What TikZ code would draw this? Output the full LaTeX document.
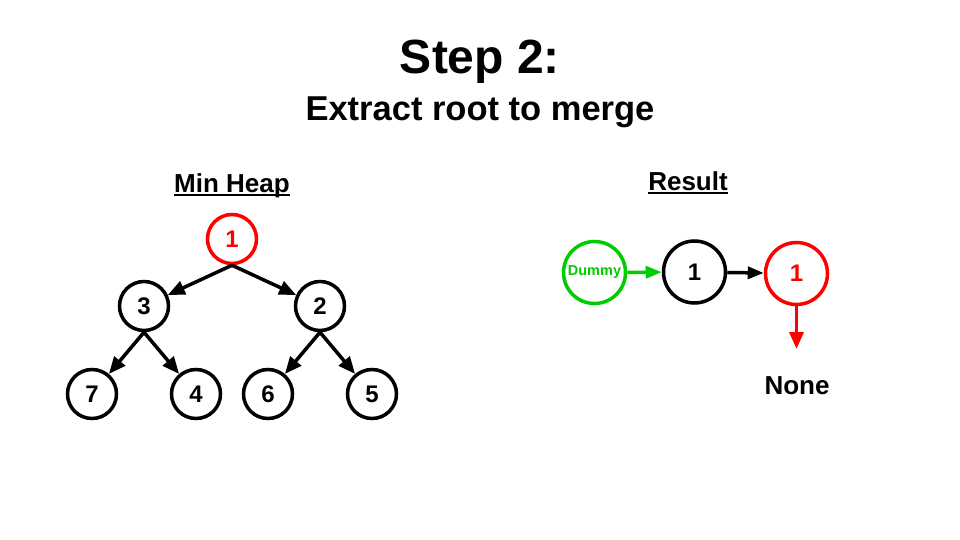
\documentclass[tikz,border=0pt]{standalone}
\usepackage{fontspec}
\setmainfont{Liberation Sans}
\usetikzlibrary{arrows.meta}
\definecolor{heapred}{RGB}{255,0,0}
\definecolor{dummygreen}{RGB}{0,204,0}
\tikzset{
  heapnode/.style={circle, draw, line width=3.5pt, minimum size=49pt, inner sep=0pt,
    font=\fontsize{24}{28}\selectfont\bfseries},
  listnode/.style={circle, draw, line width=3.5pt, minimum size=62pt, inner sep=0pt,
    font=\fontsize{24}{28}\selectfont\bfseries},
  link/.style={line width=3.5pt, -{Triangle[length=17pt,width=14pt]}},
  shortlink/.style={line width=3.5pt, -{Triangle[length=16pt,width=12pt]}},
  heading/.style={inner sep=0pt, anchor=base, font=\fontsize{26}{30}\selectfont\bfseries},
}
\begin{document}
\begin{tikzpicture}[x=1pt, y=-1pt]
\useasboundingbox (0,0) rectangle (960,540);
\fill[white] (0,0) rectangle (960,540);

% title
\node[inner sep=0pt, font=\fontsize{48}{56}\selectfont\bfseries] (title) at (480,62) {Step 2:};
\node[inner sep=0pt, font=\fontsize{34.5}{40}\selectfont\bfseries] (subtitle) at (480,112) {Extract root to merge};

% section headings
\node[heading] (mh) at (232,192) {Min Heap};
\draw[line width=2pt] ([yshift=-3pt]mh.base west) -- ([yshift=-3pt]mh.base east);
\node[heading] (res) at (688,190) {Result};
\draw[line width=2pt] ([yshift=-3pt]res.base west) -- ([yshift=-3pt]res.base east);

% min heap
\node[heapnode, draw=heapred, text=heapred] (h1) at (232,239) {1};
\node[heapnode] (h3) at (144,306) {3};
\node[heapnode] (h2) at (320,306) {2};
\node[heapnode] (h7) at (92,394) {7};
\node[heapnode] (h4) at (196,394) {4};
\node[heapnode] (h6) at (268,394) {6};
\node[heapnode] (h5) at (372,394) {5};
\draw[link] (h1.south) -- (h3);
\draw[link] (h1.south) -- (h2);
\draw[link] (h3.south) -- (h7);
\draw[link] (h3.south) -- (h4);
\draw[link] (h2.south) -- (h6);
\draw[link] (h2.south) -- (h5);

% result list
\node[listnode, draw=dummygreen, text=dummygreen, font=\fontsize{14.5}{17}\selectfont\bfseries] (dummy) at (594.5,272.5) {Dummy};
\node[listnode] (r1) at (694.5,272) {1};
\node[listnode, draw=heapred, text=heapred] (r2) at (796.5,273.5) {1};
\coordinate (tail) at (796.5,349);
\node[inner sep=0pt, font=\fontsize{26}{30}\selectfont\bfseries] (none) at (797,386) {None};
\draw[shortlink, dummygreen] (dummy) -- (r1);
\draw[shortlink] (r1) -- (r2);
\draw[link, heapred] (r2.south) -- (tail);
\end{tikzpicture}
\end{document}
